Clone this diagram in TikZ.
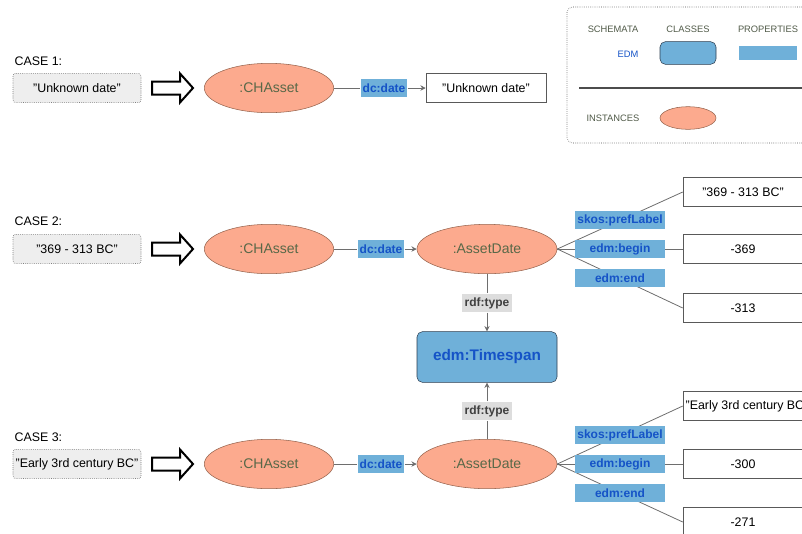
\documentclass[tikz,border=0pt]{standalone}
\usepackage{fontspec}
\setmainfont{Liberation Sans}
\usetikzlibrary{positioning,shapes.geometric,arrows.meta}

\definecolor{instfill}{RGB}{252,170,142}
\definecolor{instdraw}{RGB}{150,100,78}
\definecolor{insttext}{RGB}{88,104,72}
\definecolor{propfill}{RGB}{111,176,217}
\definecolor{classdraw}{RGB}{45,62,80}
\definecolor{linkblue}{RGB}{21,83,199}
\definecolor{typefill}{RGB}{221,221,221}
\definecolor{litfill}{RGB}{238,238,238}
\definecolor{legtext}{RGB}{80,90,72}
\definecolor{wire}{RGB}{110,110,110}

\begin{document}
\begin{tikzpicture}[x=0.75pt, y=-0.75pt, every node/.style={inner sep=1pt},
    font=\fontsize{9.3}{11}\selectfont,
    instance/.style={ellipse, draw=instdraw, fill=instfill, text=insttext,
      minimum width=97pt, minimum height=37pt, font=\fontsize{10.5}{12}\selectfont},
    schemaclass/.style={draw=classdraw, fill=propfill, rounded corners=4pt, text=linkblue},
    property/.style={fill=propfill, text=linkblue, minimum height=13.5pt,
      font=\fontsize{9}{11}\selectfont\bfseries},
    typelink/.style={fill=typefill, text=black!75, minimum width=37pt, minimum height=14pt,
      font=\fontsize{9}{11}\selectfont\bfseries},
    literal/.style={draw=black!75, densely dotted, fill=litfill, rounded corners=2pt,
      minimum width=96pt, minimum height=22pt},
    valuebox/.style={draw=black!65, fill=white, minimum width=90pt, minimum height=22pt},
    legendtext/.style={text=legtext, font=\fontsize{7}{8}\selectfont},
    bigarrow/.style={draw=black, line width=1.5pt, fill=white, line join=miter},
    link/.style={draw=wire, line width=0.6pt},
    arr/.style={link, -{Stealth[length=4pt, width=4pt]}}]

  \useasboundingbox (0,0) rectangle (802,533);
  \clip (0,0) rectangle (802,533);

  % Legend
  \draw[black!70, densely dotted, rounded corners=4pt] (567,7) rectangle (830,143);
  \node[legendtext] (schemata) at (613,29) {SCHEMATA};
  \node[legendtext] (classes) at (688,29) {CLASSES};
  \node[legendtext] (properties) at (768,29) {PROPERTIES};
  \node[legendtext, text=linkblue, anchor=east] (edm) at (640,54) {EDM};
  \node[schemaclass, minimum width=42pt, minimum height=17pt] (legclass) at (688,53) {};
  \node[property, minimum width=43pt, minimum height=11pt] (legprop) at (768,53) {};
  \draw[black!70, line width=0.8pt] (579,88) -- (830,88);
  \node[legendtext] (instances) at (613,118) {INSTANCES};
  \node[instance, minimum width=42pt, minimum height=17pt] (leginst) at (688,118) {};

  % Big arrows from text to resource
  \foreach \y in {88,249,464}
    \draw[bigarrow] (152,\y-6.5) -- (180,\y-6.5) -- (180,\y-14.5) -- (193,\y)
      -- (180,\y+14.5) -- (180,\y+6.5) -- (152,\y+6.5) -- cycle;

  % Case 1
  \node[anchor=west] (case1) at (13,61) {CASE 1:};
  \node[literal] (lit1) at (77,88) {"Unknown date"};
  \node[instance] (ch1) at (269,88) {:CHAsset};
  \node[property, minimum width=35pt] (dc1) at (384,88) {dc:date};
  \node[valuebox] (val1) at (486,88) {"Unknown date"};
  \draw[link] (ch1) -- (dc1);
  \draw[arr] (dc1) -- (val1);

  % Case 2
  \node[anchor=west] (case2) at (13,221) {CASE 2:};
  \node[literal] (lit2) at (77,249) {"369 - 313 BC"};
  \node[instance] (ch2) at (269,249) {:CHAsset};
  \node[property, minimum width=35pt] (dc2) at (381,249) {dc:date};
  \node[instance, minimum width=105pt] (ad2) at (487,249) {:AssetDate};
  \node[valuebox] (v2a) at (743,192) {"369 - 313 BC"};
  \node[valuebox] (v2b) at (743,249) {-369};
  \node[valuebox] (v2c) at (743,308) {-313};
  \draw[link] (ch2) -- (dc2);
  \draw[arr] (dc2) -- (ad2);
  \draw[link] (ad2.east) -- (v2a.west);
  \draw[link] (ad2.east) -- (v2b.west);
  \draw[link] (ad2.east) -- (v2c.west);
  \node[property, minimum width=68pt] (pl2) at (620,220) {skos:prefLabel};
  \node[property, minimum width=68pt] (bg2) at (620,249) {edm:begin};
  \node[property, minimum width=68pt] (en2) at (620,278) {edm:end};

  % Shared class
  \node[schemaclass, minimum width=105pt, minimum height=38pt,
    font=\fontsize{11.5}{13}\selectfont\bfseries] (ts) at (487,357) {edm:Timespan};
  \node[typelink] (ty2) at (487,303) {rdf:type};
  \draw[link] (ad2) -- (ty2);
  \draw[arr] (ty2) -- (ts);

  % Case 3
  \node[anchor=west] (case3) at (13,437) {CASE 3:};
  \node[literal] (lit3) at (77,464) {"Early 3rd century BC"};
  \node[instance] (ch3) at (269,464) {:CHAsset};
  \node[property, minimum width=35pt] (dc3) at (381,464) {dc:date};
  \node[instance, minimum width=105pt] (ad3) at (487,464) {:AssetDate};
  \node[valuebox] (v3a) at (743,406) {\makebox[86pt][l]{"Early 3rd century BC"}};
  \node[valuebox] (v3b) at (743,464) {-300};
  \node[valuebox] (v3c) at (743,522) {-271};
  \draw[link] (ch3) -- (dc3);
  \draw[arr] (dc3) -- (ad3);
  \draw[link] (ad3.east) -- (v3a.west);
  \draw[link] (ad3.east) -- (v3b.west);
  \draw[link] (ad3.east) -- (v3c.west);
  \node[property, minimum width=68pt] (pl3) at (620,435) {skos:prefLabel};
  \node[property, minimum width=68pt] (bg3) at (620,464) {edm:begin};
  \node[property, minimum width=68pt] (en3) at (620,493) {edm:end};
  \node[typelink] (ty3) at (487,411) {rdf:type};
  \draw[link] (ad3) -- (ty3);
  \draw[arr] (ty3) -- (ts);
\end{tikzpicture}
\end{document}
